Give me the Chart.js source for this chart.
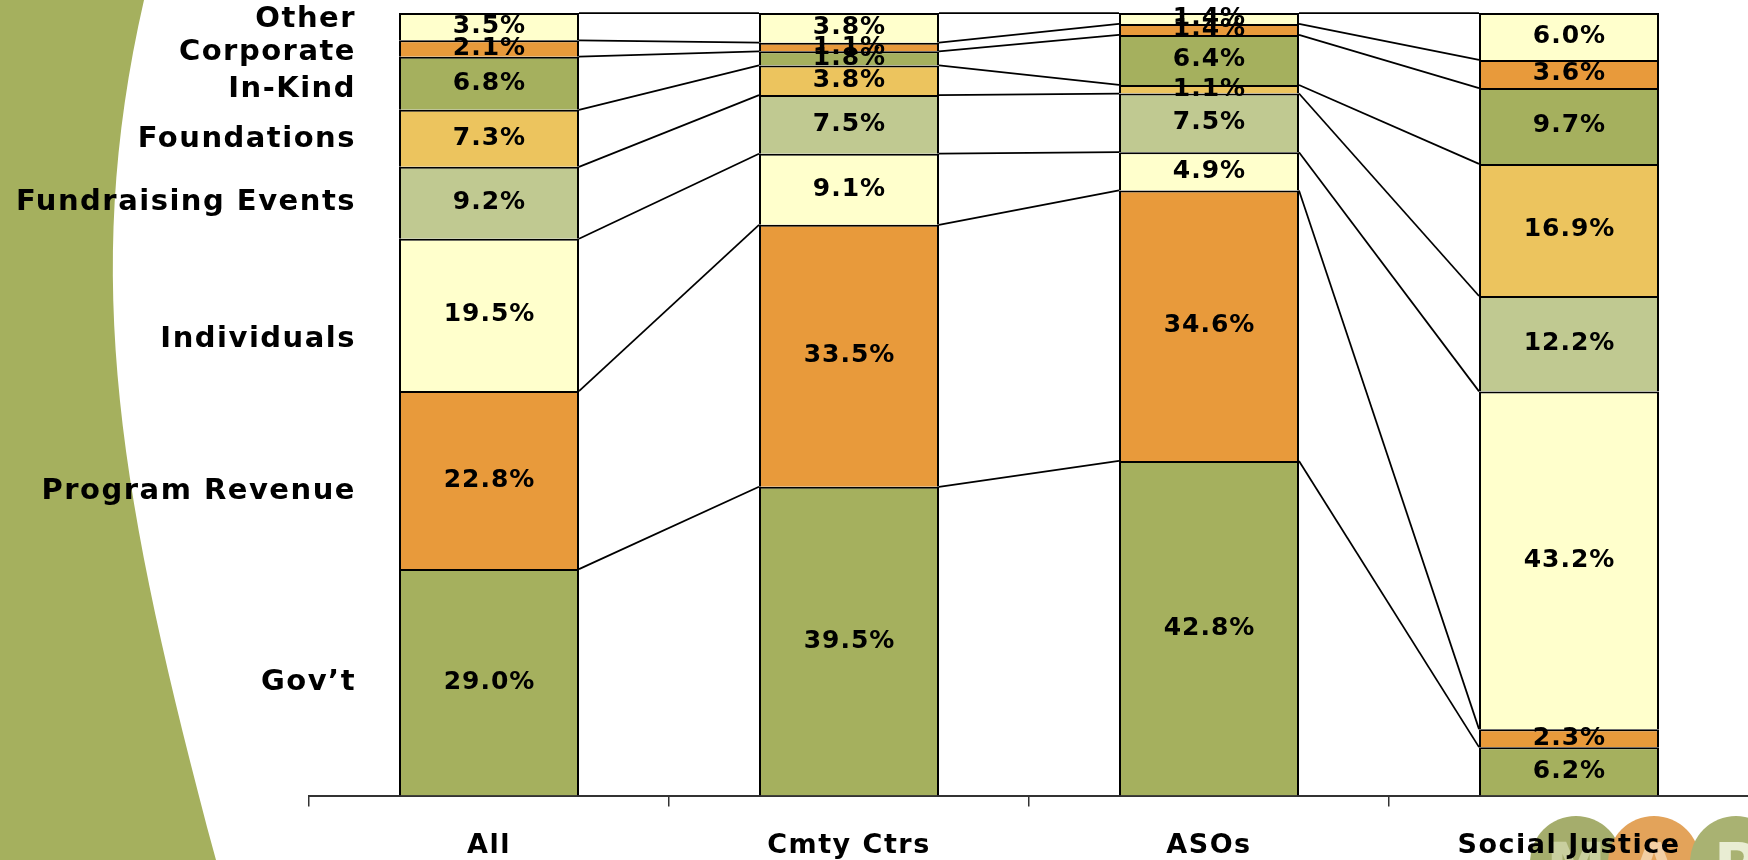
<!DOCTYPE html>
<html>
<head>
<meta charset="utf-8">
<script src="https://cdn.jsdelivr.net/npm/chart.js@4.4.0/dist/chart.umd.min.js"></script>
<style>
  html, body { margin: 0; padding: 0; background: #fff; overflow: hidden; }
  #wrap { width: 1760px; height: 860px; }
</style>
</head>
<body>
<div id="wrap"><canvas id="chart" width="1760" height="860"></canvas></div>
<script>
/* data (percent of revenue, bottom to top) */
var categories = ['All', 'Cmty Ctrs', 'ASOs', 'Social Justice'];
var seriesNames = ['Gov\u2019t', 'Program Revenue', 'Individuals', 'Fundraising Events',
                   'Foundations', 'In-Kind', 'Corporate', 'Other'];

var govt              = [29.0, 39.5, 42.8,  6.2];
var programRevenue    = [22.8, 33.5, 34.6,  2.3];
var individuals       = [19.5,  9.1,  4.9, 43.2];
var fundraisingEvents = [ 9.2,  7.5,  7.5, 12.2];
var foundations       = [ 7.3,  3.8,  1.1, 16.9];
var inKind            = [ 6.8,  1.8,  6.4,  9.7];
var corporate         = [ 2.1,  1.1,  1.4,  3.6];
var other             = [ 3.5,  3.8,  1.4,  6.0];

var seriesValues = [govt, programRevenue, individuals, fundraisingEvents,
                    foundations, inKind, corporate, other];

/* styling */
var seriesColors = ['#a5b05e', '#e89a3b', '#ffffcc', '#c0c991',
                    '#ecc45e', '#a5b05e', '#e89a3b', '#ffffcc'];
var labelNudge = [0, 11, 25, 0, 1, 6, 4, -7];   // px shift of the left-hand series names
var FONT = '"DejaVu Sans", Verdana, sans-serif';

/* 100% stacked: each column is scaled to its own total, like the original */
var totals = categories.map(function (c, j) {
    return seriesValues.reduce(function (s, arr) { return s + arr[j]; }, 0);
});

var datasets = seriesValues.map(function (arr, i) {
    return {
        label: seriesNames[i],
        raw: arr,
        data: arr.map(function (v, j) { return v / totals[j] * 100; }),
        backgroundColor: seriesColors[i],
        borderColor: '#000',
        borderWidth: 2,
        barPercentage: 0.5,
        categoryPercentage: 1.0
    };
});

/* green swoosh on the left and the logo at the bottom right */
var slideBackground = {
    id: 'slideBackground',
    beforeDraw: function (chart) {
        var ctx = chart.ctx;
        ctx.save();
        ctx.fillStyle = '#fff';
        ctx.fillRect(0, 0, chart.width, chart.height);

        ctx.beginPath();
        ctx.moveTo(0, 0);
        ctx.lineTo(144, 0);
        ctx.bezierCurveTo(80, 280, 120, 500, 216, 860);
        ctx.lineTo(0, 860);
        ctx.closePath();
        ctx.fillStyle = '#a5b05e';
        ctx.fill();

        var logo = [['#a5ad6c', '#c9cf9f', 'M', 1576], ['#e3a35a', '#f3cfa4', 'A', 1654], ['#a9b272', '#e9edd3', 'P', 1736]];
        logo.forEach(function (l) {
            ctx.beginPath();
            ctx.arc(l[3], 862, 46, 0, Math.PI * 2);
            ctx.fillStyle = l[0];
            ctx.fill();
            ctx.fillStyle = l[1];
            ctx.font = 'bold 60px ' + FONT;
            ctx.textAlign = 'center';
            ctx.textBaseline = 'alphabetic';
            ctx.fillText(l[2], l[3], 886);
        });
        ctx.restore();
        // wider tracking for the category labels drawn by the x axis
        ctx.letterSpacing = '1.5px';
    }
};

/* series lines between columns, value labels, series names beside the first column */
var seriesLinesAndLabels = {
    id: 'seriesLinesAndLabels',
    afterDatasetsDraw: function (chart) {
        var ctx = chart.ctx;
        ctx.save();
        ctx.strokeStyle = '#000';
        ctx.lineWidth = 1.75;
        chart.data.datasets.forEach(function (ds, i) {
            var bars = chart.getDatasetMeta(i).data;
            for (var j = 0; j < bars.length - 1; j++) {
                var a = bars[j], b = bars[j + 1];
                ctx.beginPath();
                ctx.moveTo(a.x + a.width / 2, a.y);
                ctx.lineTo(b.x - b.width / 2, b.y);
                ctx.stroke();
            }
        });

        ctx.fillStyle = '#000';
        ctx.textBaseline = 'middle';
        ctx.textAlign = 'center';
        ctx.font = 'bold 25px ' + FONT;
        ctx.letterSpacing = '1px';
        chart.data.datasets.forEach(function (ds, i) {
            chart.getDatasetMeta(i).data.forEach(function (bar, j) {
                ctx.fillText(ds.raw[j].toFixed(1) + '%', bar.x + 0.5, (bar.y + bar.base) / 2);
            });
        });

        ctx.textAlign = 'right';
        ctx.font = 'bold 29px ' + FONT;
        ctx.letterSpacing = '1.5px';
        chart.data.datasets.forEach(function (ds, i) {
            var bar = chart.getDatasetMeta(i).data[0];
            ctx.fillText(ds.label, bar.x - bar.width / 2 - 43, (bar.y + bar.base) / 2 + labelNudge[i]);
        });
        ctx.restore();
    }
};

new Chart(document.getElementById('chart').getContext('2d'), {
    type: 'bar',
    data: { labels: categories, datasets: datasets },
    plugins: [slideBackground, seriesLinesAndLabels],
    options: {
        responsive: false,
        animation: false,
        layout: { padding: { left: 309, right: 11, top: 13, bottom: -25 } },
        plugins: {
            legend: { display: false },
            tooltip: { enabled: false }
        },
        scales: {
            x: {
                stacked: true,
                offset: true,
                grid: {
                    display: true,
                    offset: true,
                    drawOnChartArea: false,
                    drawTicks: true,
                    tickLength: 11,
                    color: '#333',
                    lineWidth: 1.5
                },
                border: { display: true, color: '#333', width: 2 },
                ticks: {
                    color: '#000',
                    padding: 23,
                    maxRotation: 0,
                    autoSkip: false,
                    font: { family: FONT, size: 27, weight: 'bold' }
                }
            },
            y: {
                stacked: true,
                display: false,
                min: 0,
                max: 100
            }
        }
    }
});
</script>
</body>
</html>
